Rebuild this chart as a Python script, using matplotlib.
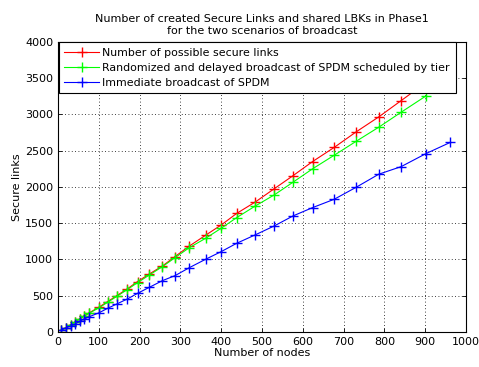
import matplotlib
matplotlib.use("Agg")
from matplotlib import pyplot as plt

# node counts (x) for each simulated point
nodes = [8, 19, 31, 42, 54, 65, 77, 101, 122, 144, 170, 195, 224, 256, 287, 322,
         362, 400, 438, 483, 530, 576, 624, 677, 731, 786, 841, 902, 961]

possible = [25, 60, 100, 140, 185, 225, 265, 345, 420, 500, 595, 695, 800, 910,
            1040, 1185, 1335, 1475, 1635, 1790, 1975, 2155, 2350, 2545, 2760,
            2965, 3190, 3440]
randomized = [25, 58, 98, 138, 180, 220, 260, 335, 410, 490, 585, 680, 786, 901,
              1025, 1163, 1292, 1430, 1577, 1735, 1890, 2065, 2250, 2437, 2630,
              2823, 3030, 3255]
immediate = [28, 55, 83, 110, 150, 180, 211, 266, 327, 386, 455, 533, 616, 708,
             777, 887, 1003, 1108, 1223, 1338, 1462, 1600, 1715, 1830, 1996,
             2175, 2280, 2460, 2613]

labels = ["Number of possible secure links",
          "Randomized and delayed broadcast of SPDM scheduled by tier",
          "Immediate broadcast of SPDM"]

plt.rcParams['font.family'] = 'DejaVu Sans'
plt.rcParams['font.size'] = 8

fig = plt.figure(figsize=(4.79, 3.67), dpi=100)
ax = fig.add_axes([0.121, 0.0954, 0.852, 0.7906])

ax.plot(nodes[:len(possible)], possible, color='red', marker='+', ms=6.5, lw=0.8,
        label=labels[0])
ax.plot(nodes[:len(randomized)], randomized, color=(0, 1, 0), marker='+', ms=6.5,
        lw=0.8, label=labels[1])
ax.plot(nodes, immediate, color='blue', marker='+', ms=6.5, lw=0.8, label=labels[2])

ax.set_xlim(0, 1000)
ax.set_ylim(0, 4000)
ax.set_xticks(range(0, 1001, 100))
ax.set_yticks(range(0, 4001, 500))
ax.grid(True, color='black', linestyle=(0, (1, 3)), linewidth=0.6)
ax.tick_params(direction='in', length=3, width=0.6, labelsize=8, top=True, right=True)
for s in ax.spines.values():
    s.set_linewidth(0.8)

ax.set_xlabel("Number of nodes", fontsize=8, labelpad=1)
ax.set_ylabel("Secure links", fontsize=8, labelpad=2)
ax.set_title("Number of created Secure Links and shared LBKs in Phase1\n"
             "for the two scenarios of broadcast", fontsize=8, pad=6)

leg = ax.legend(loc='upper left', fontsize=7.9, frameon=True, fancybox=False,
                handlelength=3.2, handletextpad=0.3, borderaxespad=0.05,
                borderpad=0.5, labelspacing=0.45)
leg.get_frame().set_edgecolor('black')
leg.get_frame().set_linewidth(0.8)
leg.get_frame().set_alpha(1)

fig.savefig("out.png", dpi=100)
